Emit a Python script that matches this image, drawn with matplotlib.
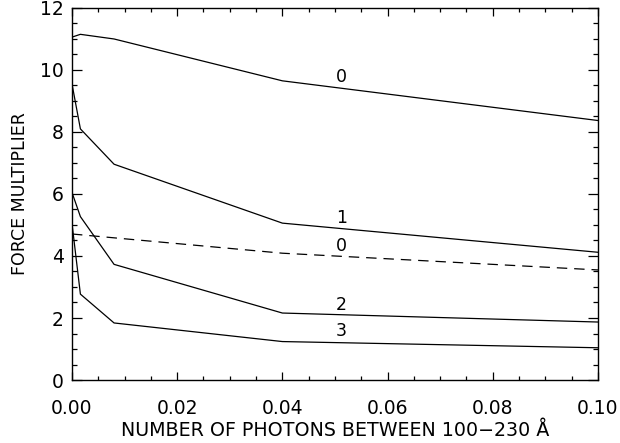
"""Force multiplier vs number of photons between 100-230 A."""
import matplotlib
matplotlib.use("Agg")
import matplotlib.pyplot as plt
from matplotlib.ticker import MultipleLocator

# photon numbers sampled by the solid curves
photons = [0.0, 0.0016, 0.008, 0.04, 0.10]
curve_0 = [11.06, 11.15, 11.00, 9.65, 8.37]
curve_1 = [9.55, 8.10, 6.96, 5.06, 4.12]
curve_2 = [6.05, 5.27, 3.73, 2.16, 1.87]
curve_3 = [5.05, 2.77, 1.84, 1.24, 1.04]

# dashed curve
photons_dashed = [0.0, 0.04, 0.10]
curve_dashed = [4.71, 4.09, 3.55]

curve_labels = ["0", "1", "0", "2", "3"]
label_x = 0.0512
label_y = [9.76, 5.23, 4.31, 2.43, 1.59]

plt.rcParams["font.family"] = "DejaVu Sans"
plt.rcParams["lines.scale_dashes"] = False

fig = plt.figure(figsize=(6.2, 4.43), dpi=100)
ax = fig.add_axes([0.1161, 0.1422, 0.8484, 0.8398])

for ys in [curve_0, curve_1, curve_2, curve_3]:
    ax.plot(photons, ys, color="black", lw=0.9)
ax.plot(photons_dashed, curve_dashed, color="black", lw=0.9, dashes=(7.5, 5))

for txt, y in zip(curve_labels, label_y):
    ax.text(label_x, y, txt, ha="center", va="center", fontsize=12.5)

ax.set_xlim(0, 0.10)
ax.set_ylim(0, 12)
ax.xaxis.set_major_locator(MultipleLocator(0.02))
ax.xaxis.set_minor_locator(MultipleLocator(0.005))
ax.yaxis.set_major_locator(MultipleLocator(2))
ax.yaxis.set_minor_locator(MultipleLocator(0.5))
ax.xaxis.set_major_formatter(plt.FuncFormatter(lambda v, p: f"{v:.2f}"))

ax.tick_params(axis="both", which="both", direction="in", top=True, right=True,
               labelsize=13.5, width=0.9, colors="black")
ax.tick_params(axis="x", which="major", length=5.5, pad=14)
ax.tick_params(axis="x", which="minor", length=2.7)
ax.tick_params(axis="y", which="major", length=7.5, pad=6)
ax.tick_params(axis="y", which="minor", length=3.6)
for sp in ax.spines.values():
    sp.set_linewidth(1.0)

ax.set_xlabel("NUMBER OF PHOTONS BETWEEN 100\u2212230 \u00c5", fontsize=13.7, labelpad=2)
ax.set_ylabel("FORCE MULTIPLIER", fontsize=12.5, labelpad=8)

fig.savefig("out.png", dpi=100)
